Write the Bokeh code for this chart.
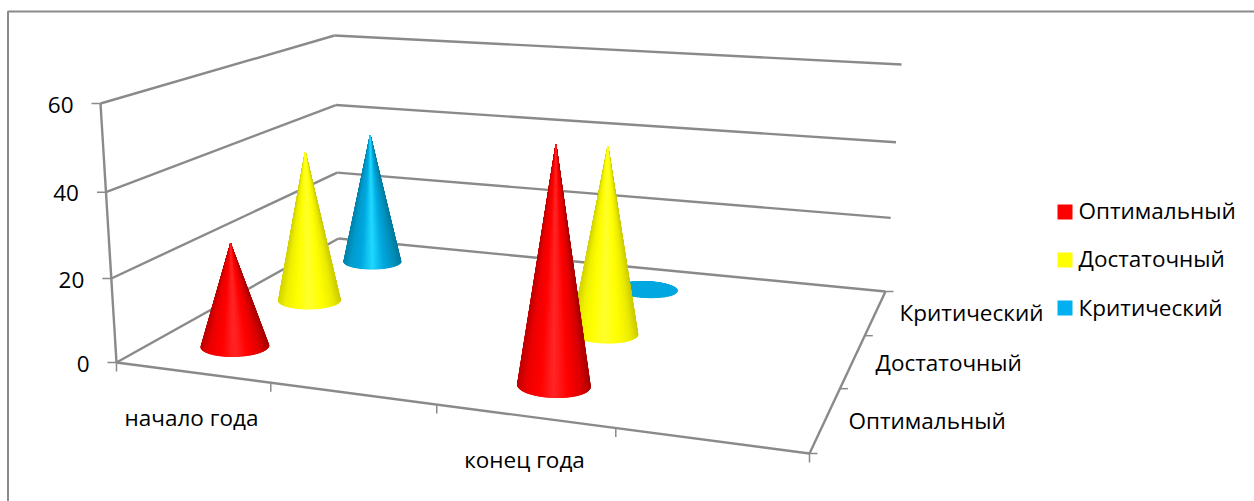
import numpy as np
from bokeh.plotting import figure
from bokeh.embed import file_html
from bokeh.resources import INLINE
from bokeh.core.properties import value

# ---- data ----
categories = ["начало года", "", "конец года", ""]
series_names = ["Оптимальный", "Достаточный", "Критический"]
optimal = [25, None, 54, None]
sufficient = [39, None, 46, None]
critical = [36, None, 2, None]
value_ticks = [0, 20, 40, 60]
series_values = [optimal, sufficient, critical]
series_colors = ["#FF0000", "#FFFF00", "#00B0F0"]

# ---- style ----
FONT = "Open Sans"
FS = "22.5px"
GRID = "#8a8a8a"
W, H = 1254, 501
VMAX = 60.0
R_X, R_D = 0.051, 0.062      # cone base radius in floor units

shades = {
    "#FF0000": ["#c00000", "#ec0000", "#ff0000", "#ff2828", "#ff0000", "#dc0000", "#a80000"],
    "#FFFF00": ["#d4d400", "#f0f000", "#ffff00", "#ffff30", "#ffff00", "#ecec00", "#cccc00"],
    "#00B0F0": ["#0084ac", "#009ccc", "#00a8e0", "#20d8ff", "#00a8e0", "#0090bc", "#007ca0"],
}
stops = [0, .12, .3, .5, .7, .88, 1]


def hexrgb(c):
    return np.array([int(c[i:i + 2], 16) for i in (1, 3, 5)], float)


def shade(col, u):
    arr = np.array([hexrgb(c) for c in shades[col]])
    rgb = [int(round(np.interp(u, stops, arr[:, k]))) for k in range(3)]
    return "#%02x%02x%02x" % tuple(rgb)


# ---- projection of the chart box ----
def homography(pts):
    src = [(0, 0), (1, 0), (1, 1), (0, 1)]
    A, b = [], []
    for (u, v), (X, Y) in zip(src, pts):
        A.append([u, v, 1, 0, 0, 0, -u * X, -v * X]); b.append(X)
        A.append([0, 0, 0, u, v, 1, -u * Y, -v * Y]); b.append(Y)
    h = np.linalg.solve(np.array(A, float), np.array(b, float))
    return np.append(h, 1).reshape(3, 3)


FLOOR = homography([(116, 362), (809, 453), (885, 291), (338, 238)])
TOP = homography([(100, 103), (827, 155), (901, 64), (334, 35)])
PERSP = 0.96


def apply(H_, x, d):
    q = H_ @ np.array([x, d, 1.0])
    return q[:2] / q[2]


def proj(x, d, v=0.0):
    t = v / VMAX
    t = t * PERSP / (1 + (PERSP - 1) * t)
    return (1 - t) * apply(FLOOR, x, d) + t * apply(TOP, x, d)


p = figure(width=W, height=H, x_range=(0, W), y_range=(H, 0),
           output_backend="svg", toolbar_location=None, min_border=0)
p.axis.visible = False
p.grid.visible = False
p.outline_line_color = None
p.background_fill_color = "white"


def seg(a, b, width=2.4):
    p.line([a[0], b[0]], [a[1], b[1]], line_color=GRID, line_width=width)


def label(x, y, s, align="left"):
    p.text([x], [y], text=[s], text_font=value(FONT), text_font_size=FS, text_color="#000000",
           text_align=align, text_baseline="middle")


# outer frame
p.line([7.5, 7.5, W], [H, 11, 11], line_color=GRID, line_width=2)

# walls and floor
for v in value_ticks:
    a, b, c = proj(0, 0, v), proj(0, 1, v), proj(1, 1, v)
    seg(a, b); seg(b, c)
    seg(a, a + np.array([-9, 0]), 1.5)
    label(a[0] - 27, a[1] + 1, str(v), "right")
seg(proj(0, 0, 0), proj(0, 0, VMAX))
seg(proj(0, 0), proj(1, 0))
seg(proj(1, 0), proj(1, 1))
for i in range(len(categories) + 1):
    a = proj(i / len(categories), 0)
    seg(a, a + np.array([0, 9]), 1.5)
for j in range(len(series_names) + 1):
    a = proj(1, j / len(series_names))
    seg(a, a + np.array([8, 0]), 1.5)

# cones, back row first
for j in reversed(range(len(series_names))):
    col = series_colors[j]
    for i, val in enumerate(series_values[j]):
        if val is None:
            continue
        cx, cd = (i + .5) / len(categories), (j + .5) / len(series_names)
        apex = proj(cx, cd, val)
        th = np.linspace(0, 2 * np.pi, 121)
        base = np.array([apply(FLOOR, cx + R_X * np.cos(t), cd + R_D * np.sin(t)) for t in th])
        left, right = base[:, 0].min(), base[:, 0].max()
        tris = []
        for k in range(120):
            a, b = base[k], base[k + 1]
            mid = (a + b) / 2
            # a nearly flat cone faces upward, so it is lit evenly
            u = (mid[0] - left) / (right - left) if val >= 5 else 0.3
            tris.append((mid[1], [apex[0], a[0], b[0]], [apex[1], a[1], b[1]], shade(col, u)))
        tris.sort(key=lambda q: q[0])
        p.patch(base[:, 0], base[:, 1], fill_color=shade(col, .3), line_color=shade(col, .3))
        p.patches([q[1] for q in tris], [q[2] for q in tris],
                  fill_color=[q[3] for q in tris], line_color=[q[3] for q in tris], line_width=0.6)

# category labels
label(191, 417, categories[0], "center")
label(524, 459, categories[2], "center")
# series labels on depth axis
label(848, 420, series_names[0])
label(875, 362, series_names[1])
label(899, 312, series_names[2])
# legend
for name, col, y, ty in zip(series_names, series_colors, [211.5, 259.5, 307.5], [210, 258, 306.5]):
    p.rect([1064.5], [y], width=15, height=15, fill_color=col, line_color=None)
    label(1078, ty, name)

open("out.html", "w").write(file_html(p, INLINE))
